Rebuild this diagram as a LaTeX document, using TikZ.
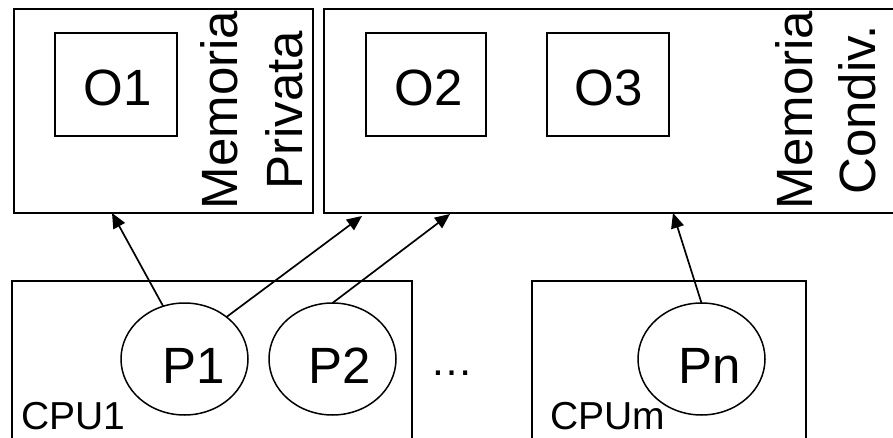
\documentclass[tikz,border=0pt]{standalone}
\usepackage{fontspec}
\setmainfont{Liberation Sans}
\usetikzlibrary{shapes.geometric,arrows.meta,calc}

\tikzset{
  frame/.style={draw, rectangle, line width=1.8pt, inner sep=0pt, outer sep=0pt, anchor=north west},
  objbox/.style={frame},
  proc/.style={draw, ellipse, line width=1.5pt, inner sep=0pt, outer sep=0pt,
               minimum width=127pt, minimum height=112pt},
  bigtext/.style={inner sep=0pt, anchor=base, font=\fontsize{51}{60}\selectfont},
  cputext/.style={inner sep=0pt, anchor=base west, font=\fontsize{39}{46}\selectfont},
  memtext/.style={bigtext, rotate=90},
  link/.style={line width=1.7pt, -{Triangle[length=15pt,width=13pt]}}
}

\begin{document}
\begin{tikzpicture}[x=1pt, y=-1pt]
  \useasboundingbox (0,0) rectangle (893,438);
  \clip (0,0) rectangle (893,438);

  % memory areas
  \node[frame, minimum width=299pt, minimum height=204pt] (priv) at (14,9) {};
  \node[frame, minimum width=600pt, minimum height=204pt] (shared) at (324,9) {};

  % objects
  \node[objbox, minimum width=122pt, minimum height=103pt] (o1) at (55,33) {};
  \node[objbox, minimum width=120pt, minimum height=103pt] (o2) at (366,33) {};
  \node[objbox, minimum width=122pt, minimum height=103pt] (o3) at (547,33) {};
  \node[bigtext] (o1t) at (118,106) {O1};
  \node[bigtext] (o2t) at (429,106) {O2};
  \node[bigtext] (o3t) at (609,106) {O3};

  % memory labels
  \node[memtext] (privA) at (237,110) {Memoria};
  \node[memtext] (privB) at (302,110) {Privata};
  \node[memtext] (sharA) at (812,110) {Memoria};
  \node[memtext] (sharB) at (875,110) {Condiv.};

  % processors
  \node[frame, minimum width=400pt, minimum height=200pt] (cpu1) at (12,281) {};
  \node[frame, minimum width=274pt, minimum height=200pt] (cpum) at (532,281) {};
  \node[cputext] (cpu1t) at (21,429) {CPU1};
  \node[cputext] (cpumt) at (550,429) {CPUm};

  % processes
  \node[proc] (p1) at (184.5,359) {};
  \node[proc] (p2) at (332.5,359) {};
  \node[proc] (pn) at (701.5,359) {};
  \node[bigtext] (p1t) at (194,383) {P1};
  \node[bigtext] (p2t) at (339.5,383) {P2};
  \node[bigtext] (pnt) at (709.5,383) {Pn};
  \node[inner sep=0pt, anchor=base, font=\fontsize{43}{50}\selectfont] (dots) at (451.5,375) {…};

  % accesses
  \draw[link] (p1.112) -- ($(priv.south west)+(98,0)$);
  \draw[link] (p1.45)  -- ($(shared.south west)+(38,3)$);
  \draw[link] (p2.north) -- ($(shared.south west)+(126,1)$);
  \draw[link] (pn.north) -- ($(shared.south west)+(349,0)$);
\end{tikzpicture}
\end{document}
